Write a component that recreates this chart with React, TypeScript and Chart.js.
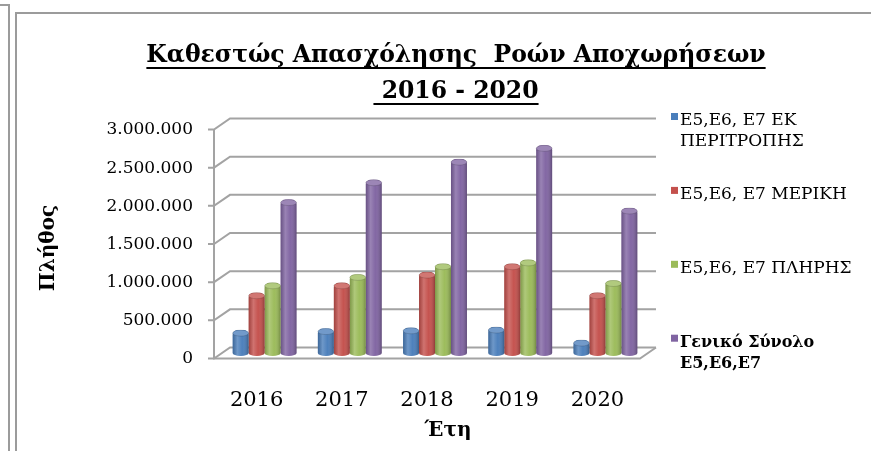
import React, { useEffect, useRef } from 'react';
import { Chart, registerables } from 'chart.js';

Chart.register(...registerables);

// ---- data ----
const years = ['2016', '2017', '2018', '2019', '2020'];
const rotationSeries = [300000, 320000, 330000, 340000, 170000];
const partialSeries = [790000, 920000, 1060000, 1170000, 790000];
const fullSeries = [920000, 1030000, 1170000, 1220000, 950000];
const totalSeries = [2010000, 2270000, 2540000, 2720000, 1900000];
const seriesNames = [
  ['E5,E6, E7 ΕΚ', 'ΠΕΡΙΤΡΟΠΗΣ'],
  ['E5,E6, E7 ΜΕΡΙΚΗ'],
  ['E5,E6, E7 ΠΛΗΡΗΣ'],
  ['Γενικό Σύνολο', 'E5,E6,E7'],
];
const titleLines = ['Καθεστώς Απασχόλησης  Ροών Αποχωρήσεων', ' 2016 - 2020'];
const yTitle = 'Πλήθος';
const xTitle = 'Έτη';
const yMin = 0;
const yMax = 3000000;
const yStep = 500000;

// ---- styles ----
const seriesColors = ['#4A7EBB', '#C4504C', '#9BBB59', '#8064A2'];
const SERIF = "'DejaVu Serif', serif";
const GRID = '#a3a3a3';
const DX = 8; // 3D depth offset (x)
const DY = 5.5; // 3D depth offset (y)

function fmt(v: number) {
  return String(Math.round(v)).replace(/\B(?=(\d{3})+(?!\d))/g, '.');
}

function lighten(hex: string, t: number) {
  const n = parseInt(hex.slice(1), 16);
  const r = (n >> 16) & 255, g = (n >> 8) & 255, b = n & 255;
  const m = (c: number) => Math.round(c + (255 - c) * t);
  return `rgb(${m(r)},${m(g)},${m(b)})`;
}

const framePlugin = {
  id: 'frame',
  beforeDraw(chart: any) {
    const c = chart.ctx;
    c.save();
    c.strokeStyle = '#9b9b9b';
    c.lineWidth = 2;
    c.beginPath();
    c.moveTo(0, 5);
    c.lineTo(9, 5);
    c.lineTo(9, chart.height);
    c.stroke();
    c.beginPath();
    c.moveTo(chart.width, 13);
    c.lineTo(16, 13);
    c.lineTo(16, chart.height);
    c.stroke();
    c.restore();
  },
};

const wallPlugin = {
  id: 'walls',
  beforeDatasetsDraw(chart: any) {
    const c = chart.ctx;
    const { left, right } = chart.chartArea;
    const ys = chart.scales.y;
    c.save();
    c.strokeStyle = GRID;
    c.lineWidth = 2;
    for (let v = yMin; v <= yMax; v += yStep) {
      const y = ys.getPixelForValue(v);
      c.beginPath();
      c.moveTo(left - DX - 6, y + DY);
      c.lineTo(left - DX, y + DY);
      c.lineTo(left + DX, y - DY);
      c.lineTo(right + DX, y - DY);
      c.stroke();
    }
    const y0 = ys.getPixelForValue(yMin);
    const yT = ys.getPixelForValue(yMax);
    c.beginPath();
    c.moveTo(left - DX, yT + DY);
    c.lineTo(left - DX, y0 + DY);
    c.lineTo(right - DX, y0 + DY);
    c.lineTo(right + DX, y0 - DY);
    c.stroke();
    c.restore();
  },
};

const cylinderPlugin = {
  id: 'cylinder',
  afterDatasetsDraw(chart: any) {
    const c = chart.ctx;
    chart.data.datasets.forEach((ds: any, di: number) => {
      if (!chart.isDatasetVisible(di)) return;
      const meta = chart.getDatasetMeta(di);
      const col = seriesColors[di];
      meta.data.forEach((el: any) => {
        const p = el.getProps(['x', 'y', 'base', 'width'], true);
        const rx = p.width / 2;
        const ry = Math.min(3, rx * 0.4);
        const l = p.x - rx;
        const r = p.x + rx;
        c.save();
        // rounded bottom
        c.beginPath();
        c.ellipse(p.x, p.base, rx, ry, 0, 0, Math.PI);
        c.fillStyle = col;
        c.fill();
        // body shading
        const g = c.createLinearGradient(l, 0, r, 0);
        g.addColorStop(0, 'rgba(0,0,0,0.18)');
        g.addColorStop(0.3, 'rgba(255,255,255,0.2)');
        g.addColorStop(0.6, 'rgba(255,255,255,0.02)');
        g.addColorStop(1, 'rgba(0,0,0,0.26)');
        c.beginPath();
        c.moveTo(l, p.y + ry);
        c.lineTo(l, p.base);
        c.ellipse(p.x, p.base, rx, ry, 0, Math.PI, 0, true);
        c.lineTo(r, p.y + ry);
        c.closePath();
        c.fillStyle = g;
        c.fill();
        // top cap
        c.beginPath();
        c.ellipse(p.x, p.y + ry, rx, ry, 0, 0, Math.PI * 2);
        c.fillStyle = lighten(col, 0.22);
        c.fill();
        c.strokeStyle = 'rgba(0,0,0,0.18)';
        c.lineWidth = 0.8;
        c.stroke();
        c.restore();
      });
    });
  },
};

const textPlugin = {
  id: 'texts',
  afterDraw(chart: any) {
    const c = chart.ctx;
    const { right } = chart.chartArea;
    c.save();
    c.fillStyle = '#000';
    // title
    c.font = `bold 23.5px ${SERIF}`;
    c.textAlign = 'center';
    c.textBaseline = 'alphabetic';
    const cx = 456;
    const baselines = [62, 98];
    titleLines.forEach((t, i) => {
      c.fillText(t, cx, baselines[i]);
      const w = c.measureText(t).width;
      c.fillRect(cx - w / 2, baselines[i] + 5, w, 2);
    });
    // x axis title
    c.font = `bold 20px ${SERIF}`;
    c.fillText(xTitle, 448, 436);
    // y axis title
    c.save();
    c.translate(54, 248);
    c.rotate(-Math.PI / 2);
    c.fillText(yTitle, 0, 0);
    c.restore();
    // legend
    const lx = right + 23;
    c.textAlign = 'left';
    seriesNames.forEach((lines, i) => {
      const b = 125 + i * 73.9;
      c.fillStyle = seriesColors[i];
      c.fillRect(lx, b - 12, 7, 7);
      c.fillStyle = '#000';
      c.font = (i === 3 ? 'bold 16px ' : '17px ') + SERIF;
      lines.forEach((t, j) => c.fillText(t, lx + 9, b + j * 21));
    });
    c.restore();
  },
};

export default function App() {
  const ref = useRef<HTMLCanvasElement | null>(null);
  useEffect(() => {
    if (!ref.current) return;
    const seriesData = [rotationSeries, partialSeries, fullSeries, totalSeries];
    const chart = new Chart(ref.current, {
      type: 'bar',
      data: {
        labels: years,
        datasets: seriesData.map((d, i) => ({
          label: seriesNames[i].join(' '),
          data: d,
          backgroundColor: seriesColors[i],
          borderWidth: 0,
          borderRadius: { topLeft: 5, topRight: 5, bottomLeft: 0, bottomRight: 0 },
          borderSkipped: 'bottom',
          categoryPercentage: 0.75,
          barPercentage: 1.0,
        })),
      },
      options: {
        responsive: false,
        animation: false,
        layout: { padding: { left: 0, top: 124, right: 223, bottom: 0 } },
        plugins: {
          legend: { display: false },
          title: { display: false },
          tooltip: { enabled: false },
        },
        scales: {
          x: {
            grid: { display: false, drawTicks: false },
            border: { display: false },
            ticks: {
              font: { family: SERIF, size: 21 },
              color: '#000',
              padding: 35,
              labelOffset: -DX,
              maxRotation: 0,
            },
            afterFit: (s: any) => {
              s.height = 98;
            },
          },
          y: {
            min: yMin,
            max: yMax,
            grid: { display: false, drawTicks: false },
            border: { display: false },
            ticks: {
              stepSize: yStep,
              font: { family: SERIF, size: 17 },
              color: '#000',
              padding: 29,
              labelOffset: 6,
              callback: (v: any) => fmt(Number(v)),
            },
            afterFit: (s: any) => {
              s.width = 222;
            },
          },
        },
      } as any,
      plugins: [framePlugin, wallPlugin, cylinderPlugin, textPlugin],
    });
    return () => chart.destroy();
  }, []);
  return (
    <div style={{ position: 'fixed', left: 0, top: 0, width: 871, height: 451, background: '#fff' }}>
      <canvas ref={ref} width={871} height={451} style={{ display: 'block' }} />
    </div>
  );
}
